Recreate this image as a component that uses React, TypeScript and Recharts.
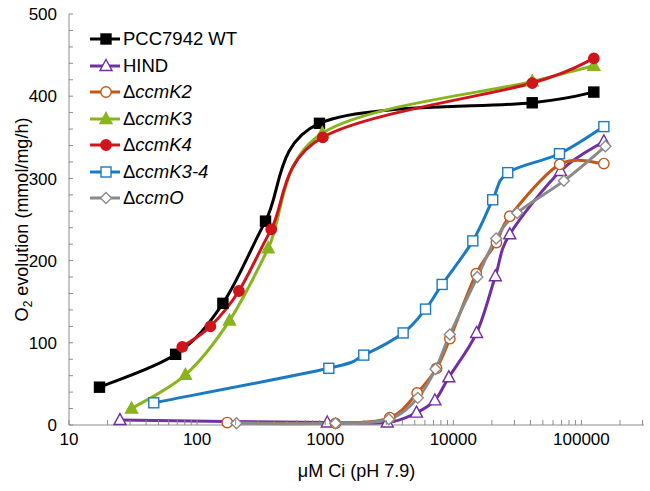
import React from 'react';
import { LineChart, Line, XAxis, YAxis, Legend } from 'recharts';

// [uM Ci, O2 evolution] pairs
const wtRows = [[17.3, 46], [68, 86], [159, 148], [342, 248], [902, 367], [41300, 392], [125000, 405]];
const hindRows = [[25, 6], [1038, 3], [3050, 3], [5160, 15], [7180, 30], [9230, 58], [15200, 112], [21300, 181], [27600, 232], [68700, 309], [149700, 345]];
const k2Rows = [[172, 3], [1203, 2], [3190, 9], [5220, 39], [7400, 69], [9400, 105], [15100, 184], [21700, 222], [27600, 254], [67700, 317], [149700, 318]];
const k3Rows = [[30.8, 20], [81, 61], [179, 127], [359, 215], [950, 355], [41300, 418], [125000, 437]];
const k4Rows = [[76.6, 95], [127, 120], [212, 163], [379, 238], [957, 350], [41300, 416], [125000, 446]];
const k34Rows = [[45.9, 27], [1067, 69], [2000, 85], [4060, 112], [6070, 141], [8180, 171], [14200, 224], [20300, 274], [26600, 307], [67400, 330], [149700, 363]];
const ccmORows = [[203, 2], [1203, 2], [3140, 7], [5280, 33], [7260, 68], [9400, 110], [15400, 180], [21600, 227], [31500, 258], [72900, 297], [154000, 339]];

const xLabels = [10, 100, 1000, 10000, 100000];
const yLabels = [0, 100, 200, 300, 400, 500];
const X_MAX = 308000;

// minor ticks: 1..9 per decade, 20 steps on y
const xTicks: number[] = [];
xLabels.forEach((d) => {
  for (let m = 1; m < 10; m++) if (m * d <= X_MAX) xTicks.push(m * d);
});
const yTicks: number[] = [];
for (let v = 0; v <= 500; v += 20) yTicks.push(v);

const toPts = (rows: number[][]) => rows.map(([x, y]) => ({ x, y }));

type Shape = 'square' | 'circle' | 'triangle' | 'diamond';
type Serie = { key: string; name: string; delta: boolean; rows: number[][]; color: string; shape: Shape; filled: boolean };

const series: Serie[] = [
  { key: 'wt', name: 'PCC7942 WT', delta: false, rows: wtRows, color: '#000000', shape: 'square', filled: true },
  { key: 'hind', name: 'HIND', delta: false, rows: hindRows, color: '#7030A0', shape: 'triangle', filled: false },
  { key: 'k2', name: 'ccmK2', delta: true, rows: k2Rows, color: '#C0581A', shape: 'circle', filled: false },
  { key: 'k3', name: 'ccmK3', delta: true, rows: k3Rows, color: '#88B41E', shape: 'triangle', filled: true },
  { key: 'k4', name: 'ccmK4', delta: true, rows: k4Rows, color: '#D0141B', shape: 'circle', filled: true },
  { key: 'k34', name: 'ccmK3-4', delta: true, rows: k34Rows, color: '#1B7AC4', shape: 'square', filled: false },
  { key: 'ccmo', name: 'ccmO', delta: true, rows: ccmORows, color: '#8A8A8A', shape: 'diamond', filled: false },
];

const FONT = '"Liberation Sans", Arial, sans-serif';
const AXIS = '#8c8c8c';

// Excel-like smoothed line (Catmull-Rom style bezier)
const excelCurve: any = (ctx: any) => {
  let p: number[][] = [];
  return {
    areaStart() {},
    areaEnd() {},
    lineStart() { p = []; },
    point(x: number, y: number) { p.push([+x, +y]); },
    lineEnd() {
      if (!p.length) return;
      ctx.moveTo(p[0][0], p[0][1]);
      for (let i = 0; i < p.length - 1; i++) {
        const a = p[Math.max(i - 1, 0)], b = p[i], c = p[i + 1], d = p[Math.min(i + 2, p.length - 1)];
        ctx.bezierCurveTo(
          b[0] + (c[0] - a[0]) / 6, b[1] + (c[1] - a[1]) / 6,
          c[0] - (d[0] - b[0]) / 6, c[1] - (d[1] - b[1]) / 6,
          c[0], c[1]
        );
      }
    },
  };
};

function Marker({ cx, cy, s }: { cx: number; cy: number; s: Serie }) {
  const fill = s.filled ? s.color : '#ffffff';
  const common = { fill, stroke: s.color, strokeWidth: 1.4 };
  if (s.shape === 'square') return <rect x={cx - 5} y={cy - 5} width={10} height={10} {...common} />;
  if (s.shape === 'circle') return <circle cx={cx} cy={cy} r={5.2} {...common} />;
  if (s.shape === 'triangle')
    return <polygon points={`${cx},${cy - 6.5} ${cx + 6},${cy + 4.5} ${cx - 6},${cy + 4.5}`} {...common} />;
  return <polygon points={`${cx},${cy - 5.5} ${cx + 5.5},${cy} ${cx},${cy + 5.5} ${cx - 5.5},${cy}`} {...common} />;
}

const XTick = (props: any) => {
  const { x, y, payload } = props;
  const v = payload.value;
  return (
    <g>
      <line x1={x} x2={x} y1={y} y2={y - 5} stroke={AXIS} />
      {xLabels.includes(v) && (
        <text x={x} y={y + 20} textAnchor="middle" fontSize={17} fontFamily={FONT} fill="#000">{v}</text>
      )}
    </g>
  );
};

const YTick = (props: any) => {
  const { x, y, payload } = props;
  const v = payload.value;
  return (
    <g>
      <line x1={x} x2={x + 4} y1={y} y2={y} stroke={AXIS} />
      {yLabels.includes(v) && (
        <text x={x - 12} y={y} dy="0.36em" textAnchor="end" fontSize={17} fontFamily={FONT} fill="#000">{v}</text>
      )}
    </g>
  );
};

const YTitle = () => (
  <text transform="translate(28,219.5) rotate(-90)" textAnchor="middle" fontSize={18} fontFamily={FONT} fill="#000">
    O<tspan dy={4} fontSize={12}>2</tspan><tspan dy={-4}> evolution (mmol/mg/h)</tspan>
  </text>
);

const renderLegend = () => (
  <div style={{ fontFamily: FONT }}>
    {series.map((s) => (
      <div key={s.key} style={{ display: 'flex', alignItems: 'center', height: 26.5 }}>
        <svg width={33} height={16} style={{ flex: 'none' }}>
          <line x1={0} x2={30} y1={8} y2={8} stroke={s.color} strokeWidth={3} />
          <Marker cx={16} cy={8} s={s} />
        </svg>
        <span style={{ fontSize: 18.5, color: '#000', whiteSpace: 'nowrap', lineHeight: '26.5px' }}>
          {s.delta ? <>Δ<i>{s.name}</i></> : s.name}
        </span>
      </div>
    ))}
  </div>
);

export default function App() {
  return (
    <div style={{ position: 'absolute', left: 0, top: 0, width: 650, height: 491, background: '#fff', fontFamily: FONT }}>
      <LineChart width={650} height={491} margin={{ top: 14, right: 6, left: 0, bottom: 0 }}>
        <XAxis
          xAxisId="main"
          dataKey="x"
          type="number"
          scale="log"
          domain={[10, X_MAX]}
          allowDataOverflow
          ticks={xTicks}
          interval={0}
          height={66}
          tickSize={0}
          tickMargin={0}
          tick={<XTick />}
          axisLine={{ stroke: AXIS }}
          tickLine={false}
          label={{ value: 'μM Ci (pH 7.9)', position: 'insideBottom', offset: 14, fontSize: 18, fill: '#000', fontFamily: FONT }}
        />
        <XAxis xAxisId="top" orientation="top" type="number" scale="log" domain={[10, X_MAX]} allowDataOverflow height={0} tick={false} tickLine={false} axisLine={{ stroke: AXIS }} />
        <YAxis
          yAxisId="main"
          type="number"
          domain={[0, 500]}
          ticks={yTicks}
          interval={0}
          width={69}
          tickSize={0}
          tickMargin={0}
          tick={<YTick />}
          axisLine={{ stroke: AXIS }}
          tickLine={false}
          label={<YTitle />}
        />
        <YAxis yAxisId="right" orientation="right" type="number" domain={[0, 500]} width={0} tick={false} tickLine={false} axisLine={{ stroke: AXIS }} />
        <Legend
          layout="vertical"
          align="center"
          verticalAlign="middle"
          wrapperStyle={{ left: 90, top: 26, width: 220 }}
          content={renderLegend}
        />
        {series.map((s) => (
          <Line
            key={s.key}
            xAxisId="main"
            yAxisId="main"
            data={toPts(s.rows)}
            dataKey="y"
            name={s.name}
            type={excelCurve}
            stroke={s.color}
            strokeWidth={3}
            dot={(p: any) => <Marker key={`${s.key}-${p.index}`} cx={p.cx} cy={p.cy} s={s} />}
            activeDot={false}
            isAnimationActive={false}
          />
        ))}
      </LineChart>
    </div>
  );
}
